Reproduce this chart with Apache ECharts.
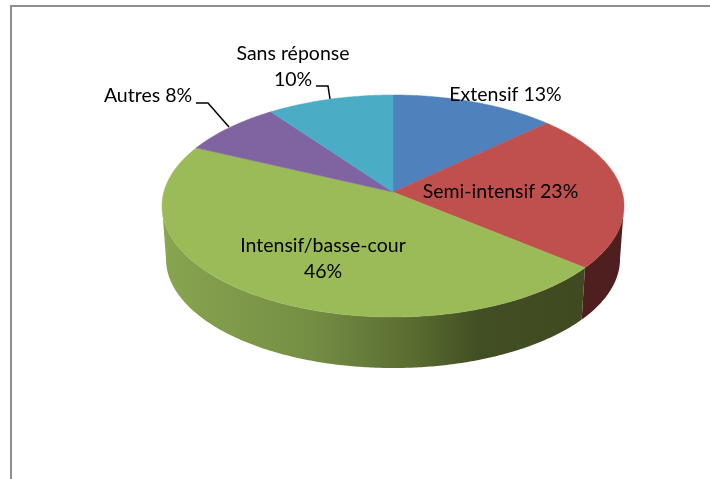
<!DOCTYPE html>
<html>
<head>
<meta charset="utf-8">
<style>
  html, body { margin: 0; padding: 0; background: #fff; }
  #main { width: 710px; height: 479px; }
</style>
<script src="https://cdn.jsdelivr.net/npm/echarts@6/dist/echarts.min.js"></script>
</head>
<body>
<div id="main"></div>
<script>
// chart data
const categories = ['Extensif', 'Semi-intensif', 'Intensif/basse-cour', 'Autres', 'Sans réponse'];
const values = [13, 23, 46, 8, 10];

// styles
const topColors = ['#4f81bd', '#c0504d', '#9bbb59', '#8064a2', '#4bacc6'];
const wallColors = [
  '#2a4565',
  '#4e1f1e',
  {
    type: 'linear', x: 0, y: 0, x2: 1, y2: 0,
    colorStops: [
      { offset: 0, color: '#88a550' },
      { offset: 0.35, color: '#758e44' },
      { offset: 0.6, color: '#586b30' },
      { offset: 0.75, color: '#424e23' },
      { offset: 1, color: '#3f4a20' }
    ]
  },
  '#453657',
  '#28606f'
];
const labelFont = { fontFamily: 'Lato', fontSize: 19.5, lineHeight: 26 };
// label anchor and line break for each slice
const labelPos = [[505.5, 95], [500.5, 192], [323, 259], [148, 96], [293, 67]];
const labelSep = [' ', ' ', '\n', ' ', '\n'];
const leaders = [null, null, null,
  [[196, 103], [208, 103], [229, 127]],
  [[316, 86], [328, 86], [330, 99]]
];

// tilted disc: rim ellipse of the top and of the bottom, centre seen off-middle
const topRim = { cx: 393, cy: 206, rx: 231, ry: 111 };
const botRim = { cx: 393, cy: 259, rx: 227, ry: 109 };
const tilt = 0.126;
const total = values.reduce((a, b) => a + b, 0);

function project(rim, a) {
  const u = Math.sin(a), v = Math.cos(a);
  const d = 1 + tilt * v;
  return [
    rim.cx + rim.rx * u * Math.sqrt(1 - tilt * tilt) / d,
    rim.cy - rim.ry * (v + tilt) / d
  ];
}

function arc(rim, a0, a1) {
  const n = Math.max(2, Math.ceil((a1 - a0) / 0.01));
  const pts = [];
  for (let i = 0; i <= n; i++) pts.push(project(rim, a0 + (a1 - a0) * i / n));
  return pts;
}

function renderSlice(params, api) {
  const i = params.dataIndex;
  let before = 0;
  for (let k = 0; k < i; k++) before += values[k];
  const a0 = before / total * Math.PI * 2;
  const a1 = (before + api.value(0)) / total * Math.PI * 2;
  const children = [];

  // side wall, only the front part of the rim can be seen
  const visFrom = Math.acos(-tilt);
  const visTo = Math.PI * 2 - visFrom;
  const w0 = Math.max(a0, visFrom), w1 = Math.min(a1, visTo);
  if (w1 > w0) {
    const pts = arc(topRim, w0, w1).concat(arc(botRim, w0, w1).reverse());
    children.push({
      type: 'polygon',
      shape: { points: pts },
      style: { fill: wallColors[i], stroke: null }
    });
  }

  // top face
  const apex = [topRim.cx, topRim.cy - topRim.ry * tilt];
  children.push({
    type: 'polygon',
    shape: { points: [apex].concat(arc(topRim, a0, a1)) },
    style: { fill: topColors[i], stroke: topColors[i], lineWidth: 0.5 }
  });
  return { type: 'group', children: children };
}

function renderLabel(params, api) {
  const i = params.dataIndex;
  const children = [];
  if (leaders[i]) {
    children.push({
      type: 'polyline',
      shape: { points: leaders[i] },
      style: { stroke: '#000', lineWidth: 1.5, fill: null }
    });
  }
  children.push({
    type: 'text',
    x: labelPos[i][0],
    y: labelPos[i][1],
    style: Object.assign({
      text: categories[i] + labelSep[i] + api.value(0) + '%',
      fill: '#000',
      align: 'center',
      verticalAlign: 'middle'
    }, labelFont)
  });
  return { type: 'group', children: children };
}

const myChart = echarts.init(document.getElementById('main'), null, { renderer: 'canvas' });

const option = {
  animation: false,
  backgroundColor: '#fff',
  graphic: [{
    type: 'polyline',
    shape: { points: [[11, 479], [11, 6], [710, 6]] },
    style: { stroke: '#8e8e8e', lineWidth: 2, fill: null }
  }],
  series: [
    {
      type: 'custom',
      coordinateSystem: 'none',
      silent: true,
      renderItem: renderSlice,
      data: values.map(v => [v]),
      z: 2
    },
    {
      type: 'custom',
      coordinateSystem: 'none',
      silent: true,
      renderItem: renderLabel,
      data: values.map(v => [v]),
      z: 3
    }
  ]
};

myChart.setOption(option);
</script>
</body>
</html>
